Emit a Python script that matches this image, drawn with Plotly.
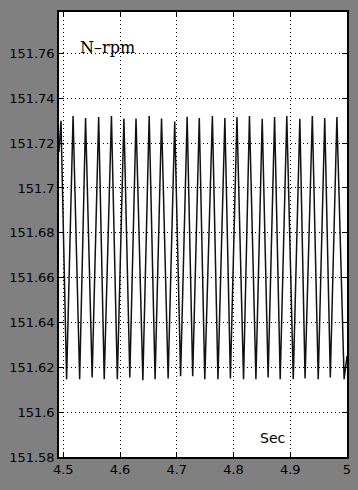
import plotly.graph_objects as go

# Shaft speed record, 4.5 s .. 5.0 s: successive maxima and minima of the oscillation
peak_t = [4.4960, 4.5173, 4.5393, 4.5624, 4.5849, 4.6069, 4.6282, 4.6514, 4.6732,
          4.6964, 4.7183, 4.7397, 4.7628, 4.7848, 4.8061, 4.8281, 4.8506, 4.8724,
          4.8939, 4.9169, 4.9389, 4.9608, 4.9822]
peak_v = [151.7300, 151.7321, 151.7312, 151.7317, 151.7321, 151.7310, 151.7310, 151.7321,
          151.7310, 151.7296, 151.7318, 151.7312, 151.7321, 151.7312, 151.7317, 151.7321,
          151.7309, 151.7317, 151.7321, 151.7309, 151.7321, 151.7312, 151.7317]
trough_t = [4.5059, 4.5289, 4.5509, 4.5722, 4.5953, 4.6173, 4.6403, 4.6618, 4.6848,
            4.7068, 4.7281, 4.7494, 4.7726, 4.7945, 4.8177, 4.8395, 4.8610, 4.8823,
            4.9053, 4.9261, 4.9493, 4.9706, 4.9949]
trough_v = [151.6147, 151.6147, 151.6155, 151.6147, 151.6147, 151.6155, 151.6143, 151.6147,
            151.6150, 151.6160, 151.6160, 151.6147, 151.6147, 151.6150, 151.6147, 151.6147,
            151.6155, 151.6147, 151.6147, 151.6150, 151.6147, 151.6155, 151.6147]
# first and last recorded samples
start_t, start_v = 4.4925, 151.7160
end_t, end_v = 5.0000, 151.6250

x_ticks = [4.5, 4.6, 4.7, 4.8, 4.9, 5.0]
x_labels = ["4.5", "4.6", "4.7", "4.8", "4.9", "5"]
y_ticks = [151.58, 151.60, 151.62, 151.64, 151.66, 151.68, 151.70, 151.72, 151.74, 151.76]
y_labels = ["151.58", "151.6", "151.62", "151.64", "151.66", "151.68", "151.7",
            "151.72", "151.74", "151.76"]

# interleave maxima and minima into one time series
t = [start_t]
v = [start_v]
for pt, pv, tt, tv in zip(peak_t, peak_v, trough_t, trough_v):
    t += [pt, tt]
    v += [pv, tv]
t.append(end_t)
v.append(end_v)

fig = go.Figure()
fig.add_trace(go.Scatter(x=t, y=v, mode="lines",
                         line=dict(color="#111111", width=1.5),
                         hoverinfo="skip", showlegend=False))

axis_common = dict(
    showline=True, linecolor="black", linewidth=1.5, mirror="allticks",
    ticks="inside", ticklen=5, tickwidth=1, tickcolor="black",
    showgrid=True, gridcolor="black", gridwidth=1, griddash="1px,3px",
    zeroline=False,
    tickfont=dict(family="DejaVu Sans", size=13, color="black"),
)

fig.update_xaxes(range=[4.4925, 5.0], tickmode="array", tickvals=x_ticks,
                 ticktext=x_labels, **axis_common)
fig.update_yaxes(range=[151.58, 151.7785], tickmode="array", tickvals=y_ticks,
                 ticktext=y_labels, **axis_common)

fig.add_annotation(x=4.5255, y=151.7625, xref="x", yref="y", text="N–rpm",
                   showarrow=False, xanchor="left", yanchor="middle",
                   font=dict(family="DejaVu Serif", size=16, color="black"))
fig.add_annotation(x=4.8693, y=151.5885, xref="x", yref="y", text="Sec",
                   showarrow=False, xanchor="center", yanchor="middle",
                   font=dict(family="DejaVu Sans", size=14, color="black"))

fig.update_layout(
    width=358, height=490,
    margin=dict(l=59, r=7, t=12, b=33),
    paper_bgcolor="#808080", plot_bgcolor="white",
)

fig.write_html("out.html")
